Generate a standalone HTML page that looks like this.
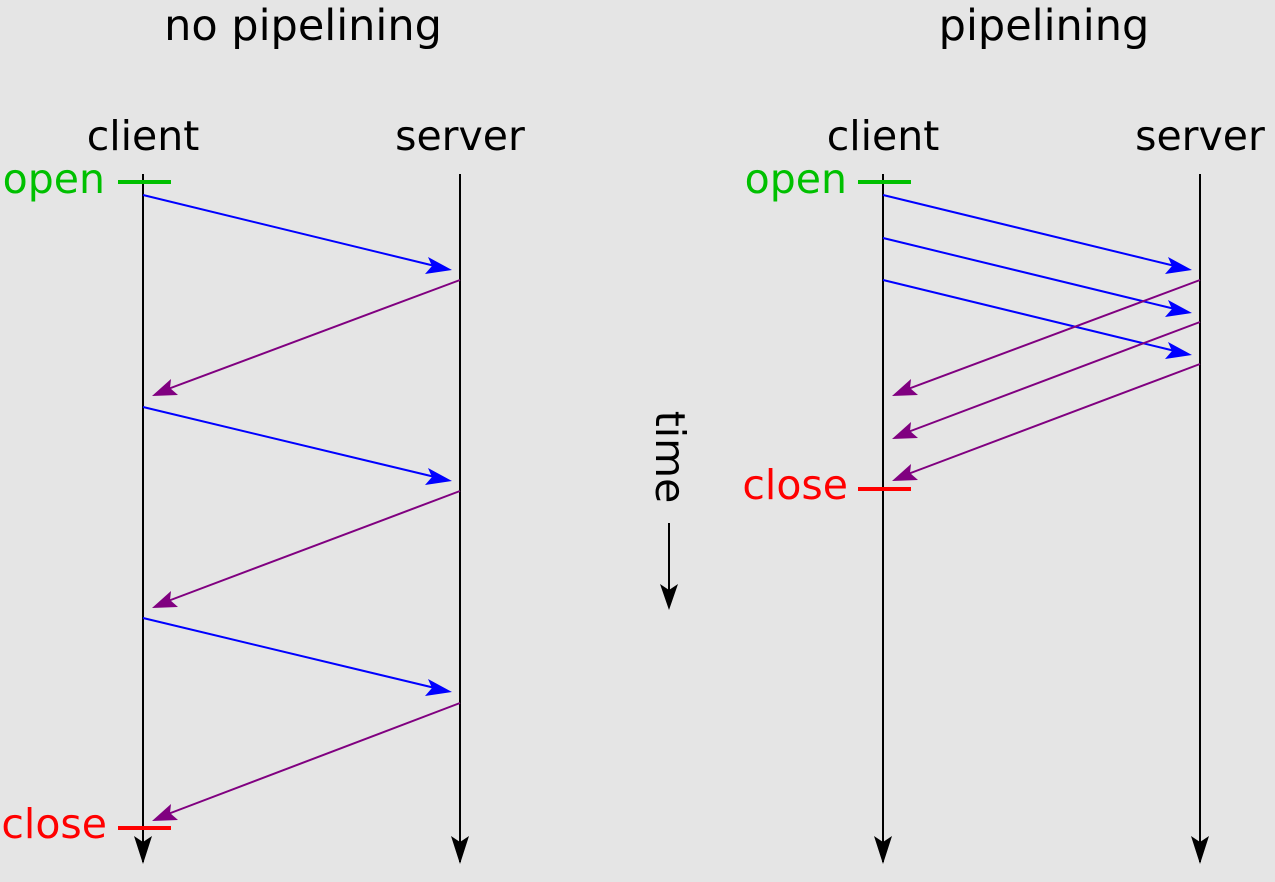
<!DOCTYPE html>
<html><head><style>html,body{margin:0;padding:0;background:#e5e5e5}svg{display:block}</style></head>
<body>
<svg width="1275" height="882" viewBox="0 0 1275 882" xmlns="http://www.w3.org/2000/svg" font-family="DejaVu Sans, Liberation Sans, sans-serif" font-size="41">
<rect width="1275" height="882" fill="#e5e5e5"/>
<text x="303" y="40" text-anchor="middle" font-size="43">no pipelining</text>
<text x="1044" y="40" text-anchor="middle" font-size="43">pipelining</text>
<text x="143" y="150" text-anchor="middle">client</text>
<text x="460" y="150" text-anchor="middle">server</text>
<text x="883" y="150" text-anchor="middle">client</text>
<text x="1200" y="150" text-anchor="middle">server</text>
<g stroke="#000" stroke-width="2" fill="none">
<line x1="143" y1="174" x2="143" y2="862"/><path d="M134,836 L143,864 L152,836 L143,842 Z" fill="#000" stroke="none"/>
<line x1="460" y1="174" x2="460" y2="862"/><path d="M451,836 L460,864 L469,836 L460,842 Z" fill="#000" stroke="none"/>
<line x1="883" y1="174" x2="883" y2="862"/><path d="M874,836 L883,864 L892,836 L883,842 Z" fill="#000" stroke="none"/>
<line x1="1200" y1="174" x2="1200" y2="862"/><path d="M1191,836 L1200,864 L1209,836 L1200,842 Z" fill="#000" stroke="none"/>
<line x1="669" y1="523" x2="669" y2="590"/><path d="M660,584 L669,610 L678,584 L669,590 Z" fill="#000" stroke="none"/>
</g>
<text transform="translate(656,457) rotate(90)" text-anchor="middle">time</text>
<g fill="#00c000"><text x="105" y="193" text-anchor="end">open</text><text x="847" y="193" text-anchor="end">open</text></g>
<g fill="#ff0000"><text x="107" y="838" text-anchor="end">close</text><text x="848" y="499" text-anchor="end">close</text></g>
<g stroke-width="4"><line x1="118" y1="182" x2="171" y2="182" stroke="#00c000"/><line x1="858" y1="182" x2="911" y2="182" stroke="#00c000"/>
<line x1="118" y1="828" x2="171" y2="828" stroke="#ff0000"/><line x1="858" y1="489" x2="911" y2="489" stroke="#ff0000"/></g>
<g stroke-width="2">
<g stroke="#0000ff">
<line x1="143" y1="195" x2="435" y2="266"/><line x1="143" y1="407" x2="435" y2="477"/><line x1="143" y1="618" x2="435" y2="688"/>
<line x1="883" y1="195" x2="1175" y2="266"/><line x1="883" y1="238" x2="1175" y2="309"/><line x1="883" y1="280" x2="1175" y2="351"/>
</g>
<g stroke="#800080">
<line x1="460" y1="280" x2="168" y2="389"/><line x1="460" y1="491" x2="168" y2="601"/><line x1="460" y1="703" x2="168" y2="814"/>
<line x1="1200" y1="280" x2="908" y2="389"/><line x1="1200" y1="322" x2="908" y2="432"/><line x1="1200" y1="364" x2="908" y2="474"/>
</g>
</g>
<g fill="#0000ff">
<path d="M452,270 L428,257 L432,266 L425,274 Z"/>
<path d="M452,481 L428,468 L432,477 L425,485 Z"/>
<path d="M452,692 L428,679 L432,688 L425,696 Z"/>
<path d="M1192,270 L1168,257 L1172,266 L1165,274 Z"/>
<path d="M1192,313 L1168,300 L1172,309 L1165,317 Z"/>
<path d="M1192,355 L1168,342 L1172,351 L1165,359 Z"/>
</g>
<g fill="#800080">
<path d="M152,396 L178,395 L170,388 L171,379 Z"/>
<path d="M152,608 L178,607 L170,600 L171,591 Z"/>
<path d="M152,821 L178,820 L170,813 L171,804 Z"/>
<path d="M892,396 L918,395 L910,388 L911,379 Z"/>
<path d="M892,439 L918,438 L910,431 L911,422 Z"/>
<path d="M892,481 L918,480 L910,473 L911,464 Z"/>
</g>
</svg>
</body></html>
